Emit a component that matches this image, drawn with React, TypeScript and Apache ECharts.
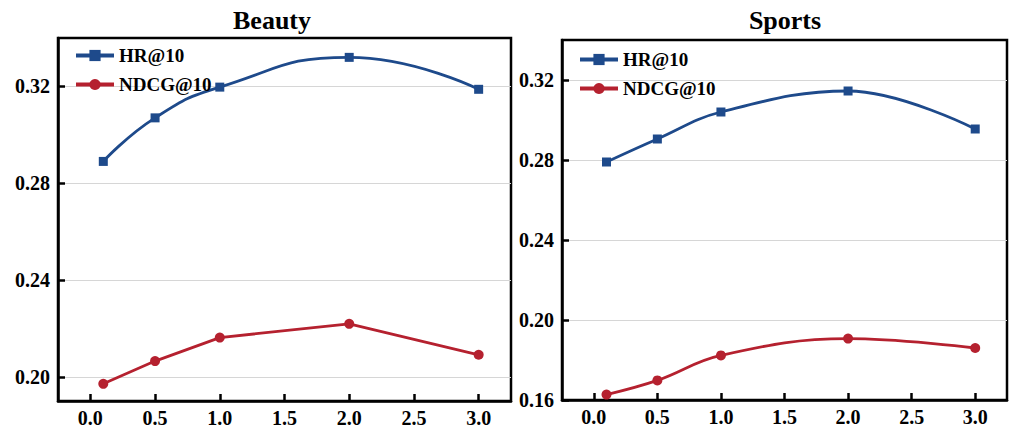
import React, { useEffect, useRef } from "react";
import * as echarts from "echarts";

const xValues = [0.1, 0.5, 1.0, 2.0, 3.0];
const xTicks = [0, 0.5, 1.0, 1.5, 2.0, 2.5, 3.0];

const beautyHR = [0.289, 0.307, 0.3197, 0.332, 0.3188];
const beautyNDCG = [0.1971, 0.2065, 0.2162, 0.2219, 0.2091];
const sportsHR = [0.279, 0.2905, 0.304, 0.3145, 0.2955];
const sportsNDCG = [0.1627, 0.1698, 0.1823, 0.1907, 0.186];

const beautyYTicks = [0.2, 0.24, 0.28, 0.32];
const sportsYTicks = [0.16, 0.2, 0.24, 0.28, 0.32];

const titles = ["Beauty", "Sports"];
const seriesNames = ["HR@10", "NDCG@10"];

const BLUE = "#1e4a8b";
const RED = "#b5212f";
const FONT = "Liberation Serif";

const pairs = (ys: number[]) => ys.map((y, i) => [xValues[i], y]);

export default function App() {
  const ref = useRef<HTMLDivElement>(null);
  useEffect(() => {
    document.body.style.margin = "0";
    const chart = echarts.init(ref.current!, null, { renderer: "svg" });

    const grids = [
      { left: 58, top: 38, width: 453, height: 365 },
      { left: 562, top: 40, width: 445, height: 360 },
    ];
    const yRanges = [
      [0.19, 0.34],
      [0.16, 0.34],
    ];
    const yTicks = [beautyYTicks, sportsYTicks];

    const xAxis = grids.map((_, i) => ({
      type: "value",
      gridIndex: i,
      min: -0.25,
      max: 3.25,
      axisLine: { show: true, onZero: false, lineStyle: { color: "#000", width: 2.5 } },
      axisTick: {
        show: true,
        inside: true,
        length: 7,
        customValues: xTicks,
        lineStyle: { color: "#000", width: 2.5 },
      },
      axisLabel: {
        customValues: xTicks,
        formatter: (v: number) => v.toFixed(1),
        fontFamily: FONT,
        fontWeight: "bold",
        fontSize: 20,
        color: "#000",
        margin: 7,
      },
      splitLine: { show: false },
    }));

    const yAxis = grids.map((_, i) => ({
      type: "value",
      gridIndex: i,
      min: yRanges[i][0],
      max: yRanges[i][1],
      axisLine: { show: true, onZero: false, lineStyle: { color: "#000", width: 2.5 } },
      axisTick: {
        show: true,
        inside: true,
        length: 7,
        customValues: yTicks[i],
        lineStyle: { color: "#000", width: 2.5 },
      },
      axisLabel: {
        customValues: yTicks[i],
        formatter: (v: number) => v.toFixed(2),
        fontFamily: FONT,
        fontWeight: "bold",
        fontSize: 20,
        color: "#000",
        margin: 8,
      },
      splitLine: { show: true, lineStyle: { color: "#d6d6d6", width: 1 } },
    }));

    const data = [
      [beautyHR, beautyNDCG],
      [sportsHR, sportsNDCG],
    ];
    const smooths: (number | boolean)[][] = [
      [0.5, false],
      [0.4, 0.4],
    ];

    const series: any[] = [];
    data.forEach((pair, gi) => {
      pair.forEach((ys, si) => {
        series.push({
          type: "line",
          name: seriesNames[si],
          xAxisIndex: gi,
          yAxisIndex: gi,
          data: pairs(ys),
          smooth: smooths[gi][si],
          symbol: si === 0 ? "rect" : "circle",
          symbolSize: si === 0 ? 9 : 10,
          showSymbol: true,
          color: si === 0 ? BLUE : RED,
          lineStyle: { width: 2.8, color: si === 0 ? BLUE : RED },
          itemStyle: { color: si === 0 ? BLUE : RED },
          z: si === 0 ? 3 : 2,
        });
      });
    });

    const legendPos = [
      { left: 74, top: 46 },
      { left: 578, top: 50 },
    ];

    chart.setOption({
      animation: false,
      textStyle: { fontFamily: FONT },
      title: titles.map((t, i) => ({
        text: t,
        left: i === 0 ? 272 : 785,
        top: 7,
        textAlign: "center",
        padding: 0,
        textStyle: { fontFamily: FONT, fontWeight: "bold", fontSize: 26, color: "#000" },
      })),
      legend: legendPos.map((p) => ({
        ...p,
        orient: "vertical",
        padding: 0,
        itemWidth: 38,
        itemHeight: 14,
        itemGap: 10,
        data: seriesNames,
        lineStyle: { width: 4 },
        textStyle: { fontFamily: FONT, fontWeight: "bold", fontSize: 19, color: "#000", padding: [0, 0, 0, 0] },
        selectedMode: false,
      })),
      grid: grids.map((g) => ({
        ...g,
        show: true,
        borderColor: "#000",
        borderWidth: 2.5,
        backgroundColor: "transparent",
      })),
      xAxis,
      yAxis,
      series,
    });
    return () => chart.dispose();
  }, []);
  return <div ref={ref} style={{ width: 1009, height: 428 }} />;
}
